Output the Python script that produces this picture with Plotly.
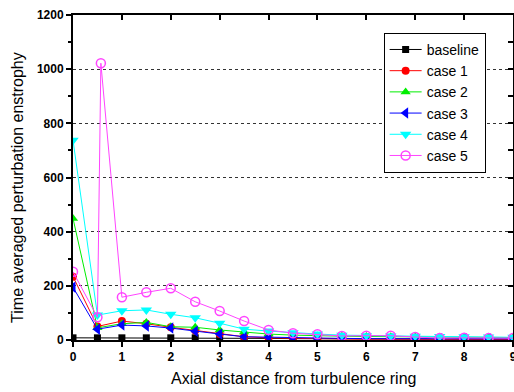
import plotly.graph_objects as go

x_vals = [0, 0.5, 1, 1.5, 2, 2.5, 3, 3.5, 4, 4.5, 5, 5.5, 6, 6.5, 7, 7.5, 8, 8.5, 9]
baseline = [8, 8, 8, 8, 8, 8, 7, 7, 6, 5, 5, 4, 4, 4, 3, 3, 3, 3, 3]
case1 = [234, 50, 70, 60, 47, 35, 22, 12, 8, 6, 5, 4, 3, 3, 3, 2, 2, 2, 2]
case2 = [449, 45, 60, 65, 49, 47, 37, 30, 22, 18, 15, 14, 13, 12, 11, 10, 10, 10, 9]
case3 = [195, 40, 55, 52, 44, 32, 22, 12, 10, 8, 6, 6, 5, 5, 5, 5, 5, 4, 4]
case4 = [738, 92, 108, 111, 95, 82, 62, 40, 33, 27, 22, 18, 16, 15, 14, 13, 12, 11, 10]
x_case5 = [0, 0.5, 0.57, 1, 1.5, 2, 2.5, 3, 3.5, 4, 4.5, 5, 5.5, 6, 6.5, 7, 7.5, 8, 8.5, 9]
case5 = [252, 84, 1022, 158, 176, 191, 141, 107, 70, 37, 25, 21, 15, 16, 16, 11, 7, 8, 7, 7]

x_title = "Axial distance from turbulence ring"
y_title = "Time averaged perturbation enstrophy"

series = [
    ("baseline", x_vals, baseline, "#000000", "square", 7),
    ("case 1", x_vals, case1, "#ff0000", "circle", 8),
    ("case 2", x_vals, case2, "#00ee00", "triangle-up", 9),
    ("case 3", x_vals, case3, "#0000ff", "triangle-left", 10),
    ("case 4", x_vals, case4, "#00ffff", "triangle-down", 10),
    ("case 5", x_case5, case5, "#ff44ff", "circle-open", 9),
]

fig = go.Figure()
for name, xs, ys, color, sym, size in series:
    fig.add_trace(go.Scatter(
        x=xs, y=ys, name=name, mode="lines+markers",
        line=dict(color=color, width=1),
        marker=dict(symbol=sym, size=size, color=color,
                    line=dict(color=color, width=1.5 if sym == "circle-open" else 0)),
    ))

# empty trace to activate mirror axes (top / right with inward ticks)
fig.add_trace(go.Scatter(x=[], y=[], xaxis="x2", yaxis="y2", showlegend=False, hoverinfo="skip"))

font_family = "Liberation Sans, Arial, sans-serif"

fig.update_layout(
    width=514, height=392,
    margin=dict(l=73, r=1, t=15, b=52),
    paper_bgcolor="white", plot_bgcolor="white",
    font=dict(family=font_family, color="black"),
    showlegend=True,
    legend=dict(x=0.706, y=0.945, xanchor="left", yanchor="top",
                bgcolor="white", bordercolor="black", borderwidth=1,
                font=dict(size=14, family=font_family), tracegroupgap=0,
                itemwidth=32),
    xaxis=dict(range=[0, 9], tickvals=[0, 1, 2, 3, 4, 5, 6, 7, 8, 9],
               ticks="outside", ticklen=5, tickwidth=1.5, tickcolor="black",
               showline=True, linecolor="black", linewidth=2,
               showgrid=False, zeroline=False, automargin=False,
               ticklabeloverflow="allow",
               tickfont=dict(size=12, weight="bold")),
    yaxis=dict(range=[0, 1200], tickvals=[0, 200, 400, 600, 800, 1000, 1200],
               ticks="outside", ticklen=5, tickwidth=1.5, tickcolor="black",
               minor=dict(tickvals=[100, 300, 500, 700, 900, 1100], ticks="outside", ticklen=3, tickcolor="black", showgrid=False),
               showline=True, linecolor="black", linewidth=2,
               showgrid=True, gridcolor="#333333", griddash="dot", gridwidth=1,
               zeroline=False, automargin=False,
               tickfont=dict(size=12, weight="bold")),
    xaxis2=dict(range=[0, 9], overlaying="x", side="top", anchor="y",
                tickvals=[1, 2, 3, 4, 5, 6, 7, 8], ticks="inside", ticklen=5, tickwidth=1.5,
                tickcolor="black", showticklabels=False, showline=True, linecolor="black",
                linewidth=2, showgrid=False, zeroline=False, automargin=False),
    yaxis2=dict(range=[0, 1200], overlaying="y", side="right", anchor="x",
                tickvals=[100, 200, 300, 400, 500, 600, 700, 800, 900, 1000, 1100],
                ticks="inside", ticklen=5, tickwidth=1.5, tickcolor="black",
                showticklabels=False, showline=True, linecolor="black", linewidth=2,
                showgrid=False, zeroline=False, automargin=False),
    annotations=[
        dict(text=x_title, xref="paper", yref="paper", x=0.5, y=-0.117,
             xanchor="center", yanchor="middle", showarrow=False, font=dict(size=16)),
        dict(text=y_title, xref="paper", yref="paper", x=-0.125, y=0.468,
             xanchor="center", yanchor="middle", textangle=-90, showarrow=False, font=dict(size=16)),
    ],
)

fig.write_html("out.html", config={"displayModeBar": False},
               post_script="document.body.style.margin='0px';")
